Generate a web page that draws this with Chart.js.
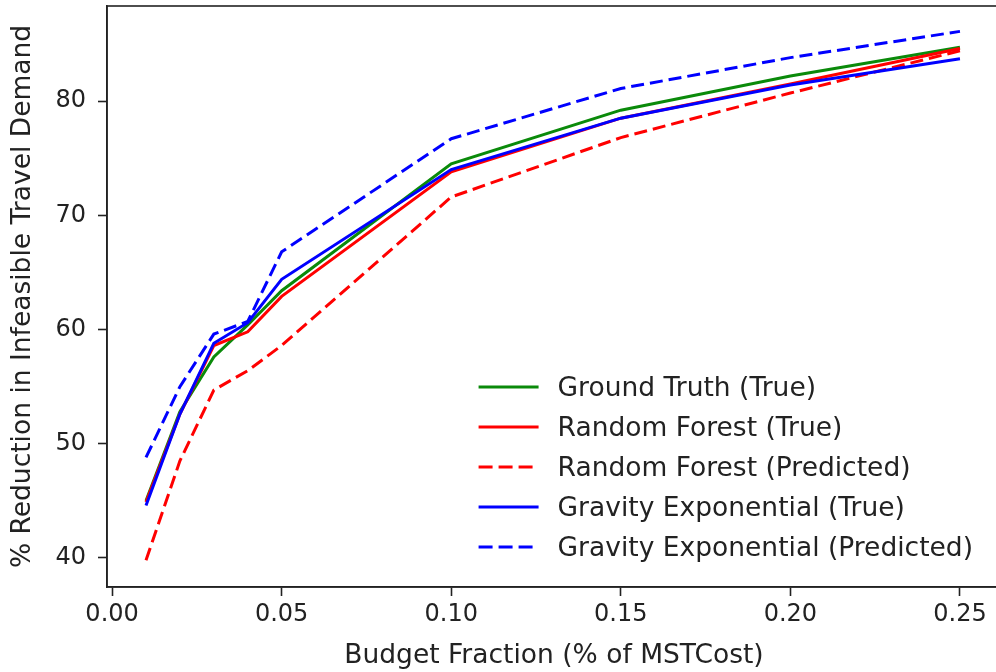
<!DOCTYPE html>
<html>
<head>
<meta charset="utf-8">
<script src="https://cdn.jsdelivr.net/npm/chart.js@4.4.1/dist/chart.umd.min.js"></script>
<style>
  html, body { margin: 0; padding: 0; background: #fff; overflow: hidden; }
  #wrap { width: 1004px; height: 672px; }
</style>
</head>
<body>
<div id="wrap"><canvas id="budgetChart" width="1004" height="672"></canvas></div>
<script>
// budget fractions (x) and the five curves
const budgetFractions = [0.01, 0.02, 0.03, 0.04, 0.05, 0.10, 0.15, 0.20, 0.25];
const groundTruth   = [45.0, 52.8, 57.6, 60.4, 63.4, 74.5, 79.2, 82.2, 84.7];
const rfTrue        = [44.9, 52.6, 58.6, 59.8, 62.9, 73.8, 78.5, 81.5, 84.6];
const rfPredicted   = [39.8, 48.5, 54.7, 56.4, 58.6, 71.6, 76.8, 80.7, 84.4];
const gravTrue      = [44.6, 52.6, 58.8, 60.6, 64.4, 74.0, 78.5, 81.4, 83.7];
const gravPredicted = [48.8, 55.0, 59.6, 60.7, 66.8, 76.7, 81.1, 83.8, 86.1];

const xTicks = [0.00, 0.05, 0.10, 0.15, 0.20, 0.25];
const yTicks = [40, 50, 60, 70, 80];

const FONT = "'DejaVu Sans', sans-serif";
const TICK_SIZE = 24;
const LABEL_SIZE = 26.5;
const TEXT = "#222";

function series(values) {
    return values.map((v, i) => ({ x: budgetFractions[i], y: v }));
}

function line(label, values, color, dashed, order) {
    return {
        label: label,
        data: series(values),
        borderColor: color,
        backgroundColor: color,
        borderWidth: 3,
        borderDash: dashed ? [13, 6] : [],
        pointRadius: 0,
        tension: 0,
        fill: false,
        order: order
    };
}

// matplotlib-style frame + legend in the lower right of the plot
const framePlugin = {
    id: "frame",
    afterDraw(chart) {
        const { ctx, chartArea: a } = chart;
        ctx.save();
        ctx.strokeStyle = "#222";
        ctx.lineWidth = 1.6;
        ctx.strokeRect(a.left, a.top, a.right - a.left, a.bottom - a.top);

        const sets = chart.data.datasets;
        ctx.font = LABEL_SIZE + "px " + FONT;
        ctx.textBaseline = "middle";
        ctx.textAlign = "left";
        const handle = 60, gap = 19, rowH = 40;
        const maxW = Math.max(...sets.map(d => ctx.measureText(d.label).width));
        const x0 = a.right - 28 - maxW - gap - handle;
        const yLast = a.bottom - 40;
        sets.forEach((d, i) => {
            const y = yLast - (sets.length - 1 - i) * rowH;
            ctx.strokeStyle = d.borderColor;
            ctx.lineWidth = d.borderWidth;
            ctx.setLineDash(d.borderDash.length ? [14, 6] : []);
            ctx.beginPath();
            ctx.moveTo(x0, y);
            ctx.lineTo(x0 + handle, y);
            ctx.stroke();
            ctx.setLineDash([]);
            ctx.fillStyle = TEXT;
            ctx.fillText(d.label, x0 + handle + gap, y + 2);
        });
        ctx.restore();
    }
};

new Chart(document.getElementById("budgetChart"), {
    type: "line",
    data: {
        datasets: [
            line("Ground Truth (True)", groundTruth, "#0a8a0a", false, 5),
            line("Random Forest (True)", rfTrue, "#ff0000", false, 4),
            line("Random Forest (Predicted)", rfPredicted, "#ff0000", true, 3),
            line("Gravity Exponential (True)", gravTrue, "#0000ff", false, 2),
            line("Gravity Exponential (Predicted)", gravPredicted, "#0000ff", true, 1)
        ]
    },
    options: {
        responsive: false,
        animation: false,
        layout: { padding: { top: 6, right: 3, left: 0, bottom: 0 } },
        plugins: {
            legend: { display: false },
            tooltip: { enabled: false }
        },
        scales: {
            x: {
                type: "linear",
                min: -0.0015,
                max: 0.2621,
                afterBuildTicks: s => { s.ticks = xTicks.map(v => ({ value: v })); },
                afterFit: s => { s.height = 85; s.paddingLeft = 0; s.paddingRight = 0; },
                grid: { drawOnChartArea: false, tickLength: 9, color: "#222", tickWidth: 1.6 },
                border: { color: "#222", width: 1.6 },
                ticks: {
                    color: TEXT,
                    font: { family: FONT, size: TICK_SIZE },
                    padding: 4,
                    maxRotation: 0,
                    callback: v => v.toFixed(2)
                },
                title: {
                    display: true,
                    text: "Budget Fraction (% of MSTCost)",
                    color: TEXT,
                    font: { family: FONT, size: LABEL_SIZE },
                    padding: { top: 0, bottom: 0 }
                }
            },
            y: {
                min: 37.46,
                max: 88.32,
                afterBuildTicks: s => { s.ticks = yTicks.map(v => ({ value: v })); },
                afterFit: s => { s.width = 107; s.paddingTop = 0; s.paddingBottom = 0; },
                grid: { drawOnChartArea: false, tickLength: 9, color: "#222", tickWidth: 1.6 },
                border: { color: "#222", width: 1.6 },
                ticks: {
                    color: TEXT,
                    font: { family: FONT, size: TICK_SIZE },
                    padding: 12,
                    callback: v => String(v)
                },
                title: {
                    display: true,
                    text: "% Reduction in Infeasible Travel Demand",
                    color: TEXT,
                    font: { family: FONT, size: LABEL_SIZE },
                    padding: { top: 7, bottom: 0 }
                }
            }
        }
    },
    plugins: [framePlugin]
});
</script>
</body>
</html>
